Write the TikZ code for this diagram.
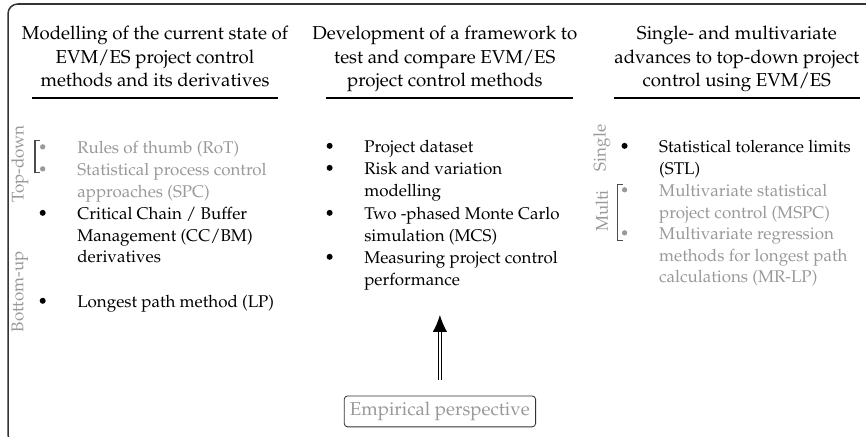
\documentclass[tikz,border=0pt]{standalone}
\usepackage[T1]{fontenc}
\usepackage{mathpazo}
\usepackage{xcolor}
\usepackage{tikz}
\usetikzlibrary{arrows.meta}

\definecolor{faded}{gray}{0.6}
\definecolor{brack}{gray}{0.3}
\definecolor{frame}{gray}{0.2}

\begin{document}
\begin{tikzpicture}[
    head/.style={
        align=center,
        anchor=base,
        inner sep=0pt,
        font=\fontsize{11}{14.1}\selectfont
    },
    item/.style={
        align=left,
        anchor=north west,
        inner sep=0pt,
        font=\fontsize{10}{12.9}\selectfont
    },
    dim/.style={
        text=faded
    },
    side/.style={
        rotate=90,
        text=faded,
        inner sep=0pt,
        font=\fontsize{10}{12}\selectfont
    },
    rule/.style={
        line width=0.8pt
    },
    brace/.style={
        draw=brack,
        line width=0.6pt
    },
    src/.style={
        draw=frame,
        rounded corners=2pt,
        text=faded,
        line width=0.5pt,
        minimum width=3.95cm,
        minimum height=0.64cm,
        font=\fontsize{11}{14}\selectfont
    },
    push/.style={
        -{Latex[length=10pt,width=8.5pt]},
        double,
        line width=0.65pt,
        double distance=1.4pt
    }
]

\useasboundingbox (0,0) rectangle (17.93,-9.046);
\clip (0,0) rectangle (17.93,-9.046);

% Outer frame (runs off the page)
\draw[frame, line width=0.9pt, rounded corners=0.2cm]
    (0.166,-0.083) rectangle (18.4,-9.2);

% Headings
\node[head] (h1) at (3.209,-1.801)
    {Modelling of the current state of\\EVM/ES project control\\methods and its derivatives};
\node[head] (h2) at (9.21,-1.801)
    {Development of a framework to\\test and compare EVM/ES\\project control methods};
\node[head] (h3) at (15.256,-1.801)
    {Single- and multivariate\\advances to top-down project\\control using EVM/ES};

\draw[rule] (0.662,-2.029) -- (5.755,-2.029);
\draw[rule] (6.748,-2.029) -- (11.861,-2.029);
\draw[rule] (12.71,-2.029) -- (17.80,-2.029);

% Left column
\node[side] (td) at (0.414,-3.395) {Top-down};
\node[side] (bu) at (0.414,-6.04) {Bottom-up};

\node[item, dim] (rot) at (1.594,-2.910) {Rules of thumb (RoT)};
\node[item, dim] (spc) at (1.594,-3.366)
    {Statistical process control\\approaches (SPC)};
\node[item] (ccbm) at (1.594,-4.277)
    {Critical Chain / Buffer\\Management (CC/BM)\\derivatives};
\node[item] (lp) at (1.594,-6.098) {Longest path method (LP)};

\draw[brace] (0.828,-2.919) -- (0.7245,-2.919)
    -- (0.7245,-3.581) -- (0.828,-3.581);

% Middle column
\node[item] (data) at (7.535,-2.890) {Project dataset};
\node[item] (risk) at (7.535,-3.345) {Risk and variation\\modelling};
\node[item] (mcs) at (7.535,-4.277)
    {Two -phased Monte Carlo\\simulation (MCS)};
\node[item] (perf) at (7.535,-5.187)
    {Measuring project control\\performance};

% Right column
\node[side] (single) at (12.461,-3.064) {Single};
\node[side] (multi) at (12.461,-4.368) {Multi};

\node[item] (stl) at (13.641,-2.890) {Statistical tolerance limits\\(STL)};
\node[item, dim] (mspc) at (13.641,-3.800)
    {Multivariate statistical\\project control (MSPC)};
\node[item, dim] (mrlp) at (13.641,-4.691)
    {Multivariate regression\\methods for longest path\\calculations (MR-LP)};

\draw[brace] (12.896,-3.830) -- (12.793,-3.830)
    -- (12.793,-4.989) -- (12.896,-4.989);

% Bullets
\foreach \n in {ccbm,lp,data,risk,mcs,perf,stl}
    \fill ([xshift=-0.71cm,yshift=-0.13cm]\n.north west) circle (0.062cm);
\foreach \n in {rot,spc,mspc,mrlp}
    \fill[faded] ([xshift=-0.71cm,yshift=-0.13cm]\n.north west) circle (0.055cm);

% Empirical input
\node[src] (emp) at (9.108,-8.518) {Empirical perspective};
\coordinate (tip) at (9.108,-6.521);

\draw[push, shorten <=0.33cm] (emp.north) -- (emp.north |- tip);

\end{tikzpicture}
\end{document}
